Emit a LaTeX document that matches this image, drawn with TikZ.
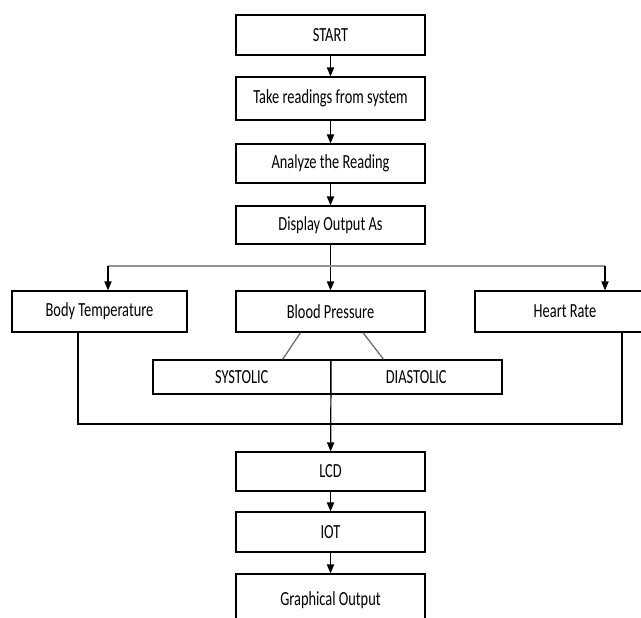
\documentclass[tikz,border=0pt]{standalone}
\usepackage{fontspec}
\setmainfont[FakeStretch=0.72]{Carlito}
\usetikzlibrary{arrows.meta}

\begin{document}
\begin{tikzpicture}[x=0.5pt, y=-0.5pt, line width=0.6pt, >={Triangle[length=4.5pt,width=3.6pt]}]
\tikzset{boite/.style={draw, minimum width=94.5pt, minimum height=20pt, inner sep=0pt, font=\normalsize}}
\tikzset{bus/.style={draw=gray!85, line width=1.3pt}}
\tikzset{lien/.style={draw=gray!80!black, line width=0.6pt}}
\useasboundingbox (0, 0) rectangle (641, 617);
\clip (0, 0) rectangle (641, 617);
\node[boite] (START) at (330.5, 35) {START};
\node[boite, minimum height=21.5pt] (TAKE) at (330.5, 98.5) {Take readings from system};
\node[boite, minimum height=19.5pt] (ANALYZE) at (330.5, 163.5) {Analyze the Reading};
\node[boite, minimum height=19pt] (DISPLAY) at (330.5, 225) {Display Output As};
\node[boite, minimum width=87.5pt, minimum height=20.5pt] (BODY) at (99.5, 311.5) {Body Temperature};
\node[boite, minimum height=20.5pt] (BP) at (330.5, 311.5) {Blood Pressure};
\node[boite, minimum width=90pt, minimum height=20.5pt] (HEART) at (565, 311.5) {Heart Rate};
\node[boite, minimum width=88.75pt, minimum height=17pt] (SYS) at (241.75, 377) {SYSTOLIC};
\node[boite, minimum width=85.75pt, minimum height=17pt] (DIA) at (416.25, 377) {DIASTOLIC};
\node[boite, minimum height=19.5pt] (LCD) at (330.5, 471.5) {LCD};
\node[boite] (IOT) at (330.5, 532) {IOT};
\node[boite, minimum height=26pt] (GRAPH) at (330.5, 600) {Graphical Output};
\coordinate (BG) at (108, 266);
\coordinate (BD) at (605, 266);
\coordinate (CG) at (78, 424);
\coordinate (CD) at (622, 424);
\draw[->] (START) -- (TAKE);
\draw[->] (TAKE) -- (ANALYZE);
\draw[->] (ANALYZE) -- (DISPLAY);
\draw[->] (DISPLAY) -- (BP);
\draw[bus] (BG) -- (BD);
\draw[->] (BG) -- (BG |- BODY.north);
\draw[->] (BD) -- (BD |- HEART.north);
\draw[lien] ([xshift=-15pt]BP.south) -- ([xshift=-24.25pt]SYS.north east);
\draw[lien] ([xshift=16.25pt]BP.south) -- ([xshift=26.25pt]SYS.north east);
\draw (CG |- BODY.south) -- (CG) -- (CD) -- (CD |- HEART.south);
\draw[->] (SYS.north east) -- (LCD);
\draw[->] (LCD) -- (IOT);
\draw[->] (IOT) -- (GRAPH);
\end{tikzpicture}
\end{document}
